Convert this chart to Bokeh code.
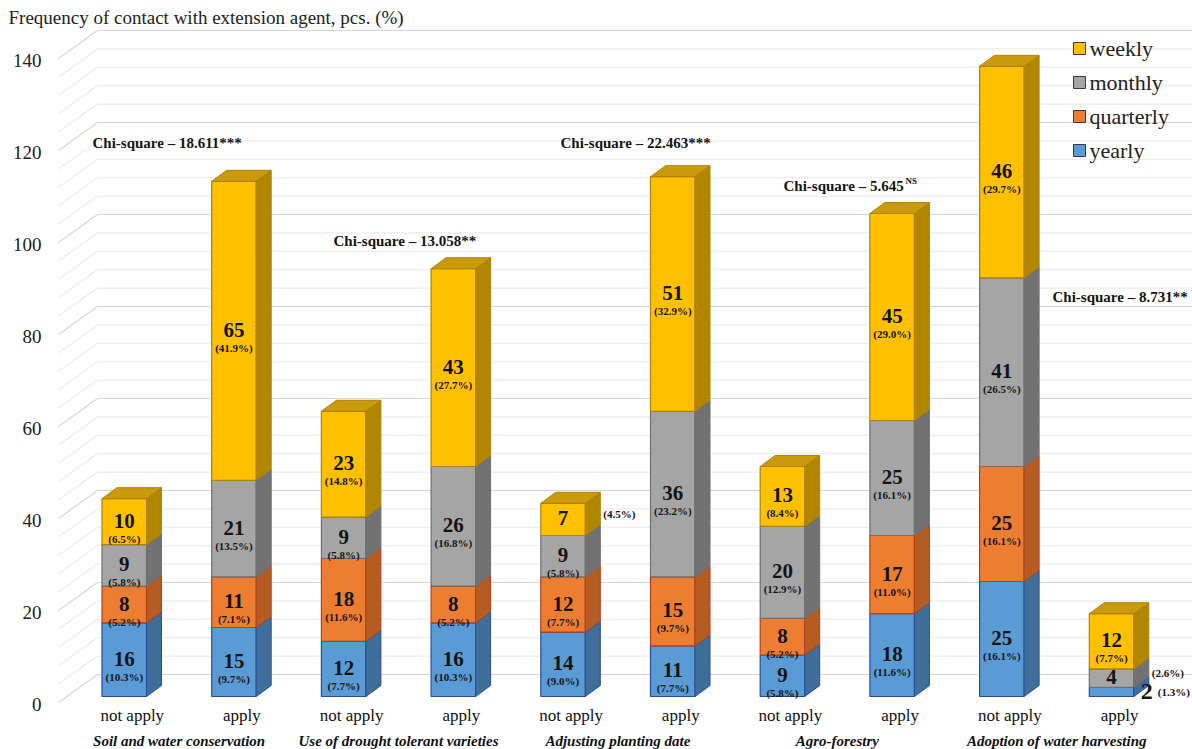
from bokeh.plotting import figure
from bokeh.models import Range1d, ColumnDataSource
from bokeh.core.properties import value
from bokeh.embed import file_html
from bokeh.resources import INLINE

# ---------------- data ----------------
practices = [
    "Soil and water conservation",
    "Use of drought tolerant varieties",
    "Adjusting planting date",
    "Agro-forestry",
    "Adoption of water harvesting",
]
status = ["not apply", "apply"]
series = ["yearly", "quarterly", "monthly", "weekly"]

yearly = [16, 15, 12, 16, 14, 11, 9, 18, 25, 2]
quarterly = [8, 11, 18, 8, 12, 15, 8, 17, 25, 0]
monthly = [9, 21, 9, 26, 9, 36, 20, 25, 41, 4]
weekly = [10, 65, 23, 43, 7, 51, 13, 45, 46, 12]

yearly_pct = ["10.3", "9.7", "7.7", "10.3", "9.0", "7.7", "5.8", "11.6", "16.1", "1.3"]
quarterly_pct = ["5.2", "7.1", "11.6", "5.2", "7.7", "9.7", "5.2", "11.0", "16.1", ""]
monthly_pct = ["5.8", "13.5", "5.8", "16.8", "5.8", "23.2", "12.9", "16.1", "26.5", "2.6"]
weekly_pct = ["6.5", "41.9", "14.8", "27.7", "4.5", "32.9", "8.4", "29.0", "29.7", "7.7"]

chi_values = ["18.611", "13.058", "22.463", "5.645", "8.731"]
chi_marks = ["***", "**", "***", "NS", "**"]

y_ticks = [0, 20, 40, 60, 80, 100, 120, 140]

values = [yearly, quarterly, monthly, weekly]
pcts = [yearly_pct, quarterly_pct, monthly_pct, weekly_pct]

# ---------------- styling ----------------
FRONT = ["#5B9BD5", "#ED7D31", "#A5A5A5", "#FFC000"]
SIDE = ["#3F6E9B", "#B45C22", "#727272", "#B38600"]
TOP = ["#4A83B8", "#C9682A", "#8C8C8C", "#C99A0C"]
EDGE = ["#2A4C9C", "#B0401E", "#6F6F6F", "#B0820A"]
TEXT = "#141414"
SERIF = "Liberation Serif"

W, H = 1192, 749
# pixel geometry of the projection
X0_PX, UX = 123.75, 109.7     # centre of first bar front face, px per bar slot
Y0_PX, UY = 696.0, 4.6        # baseline of bar front plane, px per unit


def xd(px):
    return (px - X0_PX) / UX


def yd(py):
    return (Y0_PX - py) / UY


HW = 22.25 / UX          # half width of a bar front face
DX = 15.0 / UX           # bar depth, horizontal
DY = 11.0 / UY           # bar depth, vertical

p = figure(width=W, height=H, output_backend="svg", toolbar_location=None,
           x_range=Range1d(xd(0), xd(W)), y_range=Range1d(yd(H), yd(0)),
           x_axis_type=None, y_axis_type=None, min_border=0)
p.outline_line_color = None
p.grid.visible = False
p.background_fill_color = "white"
p.border_fill_color = "white"

# ---------------- walls and gridlines ----------------
wall_front_x, wall_back_x = xd(58), xd(97)
front_dy, back_dy = -6.0 / UY, 22.0 / UY
for v in range(0, 141, 4):
    major = v % 20 == 0
    col = "#d6d6d6" if major else "#ededed"
    p.segment(x0=[wall_front_x], y0=[v + front_dy], x1=[wall_back_x], y1=[v + back_dy],
              line_color=col, line_width=1.2)
    p.segment(x0=[wall_back_x], y0=[v + back_dy], x1=[xd(W)], y1=[v + back_dy],
              line_color=col, line_width=1.2)

# y tick labels on the front edge of the side wall
p.text(x=[xd(41)] * len(y_ticks), y=[t + front_dy for t in y_ticks],
       text=[str(t) for t in y_ticks], text_align="right", text_baseline="middle",
       text_font=value(SERIF), text_font_size="19px", text_color="#222222",
       y_offset=2)

p.text(x=[xd(8)], y=[yd(17)], text=["Frequency of contact with extension agent, pcs. (%)"],
       text_align="left", text_baseline="middle", text_font=value(SERIF),
       text_font_size="19px", text_color="#222222")

# ---------------- 3D stacked columns ----------------
n = len(yearly)
fronts = {k: [] for k in ("l", "r", "b", "t", "f", "e")}
sides = {"xs": [], "ys": [], "f": [], "e": []}
tops = {"xs": [], "ys": [], "f": [], "e": []}
num_lab = {"x": [], "y": [], "t": []}
pct_lab = {"x": [], "y": [], "t": []}
out_lab = {"x": [], "y": [], "t": [], "s": []}

for i in range(n):
    base = 0
    top_s = max(s for s in range(4) if values[s][i] > 0)
    for s in range(4):
        h = values[s][i]
        if h <= 0:
            continue
        b, t = base, base + h
        fronts["l"].append(i - HW)
        fronts["r"].append(i + HW)
        fronts["b"].append(b)
        fronts["t"].append(t)
        fronts["f"].append(FRONT[s])
        fronts["e"].append(EDGE[s])
        sides["xs"].append([i + HW, i + HW + DX, i + HW + DX, i + HW])
        sides["ys"].append([b, b + DY, t + DY, t])
        sides["f"].append(SIDE[s])
        sides["e"].append(EDGE[s])
        if s == top_s:
            tops["xs"].append([i - HW, i - HW + DX, i + HW + DX, i + HW])
            tops["ys"].append([t, t + DY, t + DY, t])
            tops["f"].append(TOP[s])
            tops["e"].append(EDGE[s])
        mid = (b + t) / 2
        pct = "(" + pcts[s][i] + "%)"
        if (i, s) == (9, 0):
            # sliver too thin for text: label beside the column
            out_lab["x"] += [i + HW + 13 / UX]
            out_lab["y"] += [mid]
            out_lab["t"] += [str(h)]
            out_lab["s"] += ["big"]
            out_lab["x"] += [i + HW + 24 / UX]
            out_lab["y"] += [mid]
            out_lab["t"] += [pct]
            out_lab["s"] += ["small"]
        elif (i, s) in ((4, 3), (9, 2)):
            num_lab["x"].append(i)
            num_lab["y"].append(mid)
            num_lab["t"].append(str(h))
            out_lab["x"] += [i + HW + DX + 3 / UX]
            out_lab["y"] += [mid + DY / 2]
            out_lab["t"] += [pct]
            out_lab["s"] += ["small"]
        else:
            num_lab["x"].append(i)
            num_lab["y"].append(mid)
            num_lab["t"].append(str(h))
            pct_lab["x"].append(i)
            pct_lab["y"].append(mid)
            pct_lab["t"].append(pct)
        base = t

p.quad(left="l", right="r", bottom="b", top="t", fill_color="f", line_color="e",
       line_width=1.2, source=ColumnDataSource(fronts))
p.patches(xs="xs", ys="ys", fill_color="f", line_color="e", line_width=1.0,
          source=ColumnDataSource(sides))
p.patches(xs="xs", ys="ys", fill_color="f", line_color="e", line_width=1.0,
          source=ColumnDataSource(tops))

p.text(x="x", y="y", text="t", source=ColumnDataSource(num_lab), text_align="center",
       text_baseline="middle", text_font=value(SERIF), text_font_style="bold",
       text_font_size="21px", text_color=TEXT, y_offset=-1)
p.text(x="x", y="y", text="t", source=ColumnDataSource(pct_lab), text_align="center",
       text_baseline="middle", text_font=value(SERIF), text_font_style="bold",
       text_font_size="11px", text_color=TEXT, y_offset=17)

big = [k for k in range(len(out_lab["t"])) if out_lab["s"][k] == "big"]
small = [k for k in range(len(out_lab["t"])) if out_lab["s"][k] == "small"]
p.text(x=[out_lab["x"][k] for k in big], y=[out_lab["y"][k] for k in big],
       text=[out_lab["t"][k] for k in big], text_align="center", text_baseline="middle",
       text_font=value(SERIF), text_font_style="bold", text_font_size="24px",
       text_color=TEXT)
p.text(x=[out_lab["x"][k] for k in small], y=[out_lab["y"][k] for k in small],
       text=[out_lab["t"][k] for k in small], text_align="left", text_baseline="middle",
       text_font=value(SERIF), text_font_style="bold", text_font_size="11px",
       text_color=TEXT)

# ---------------- category labels ----------------
p.text(x=[i + 8 / UX for i in range(n)], y=[yd(715)] * n,
       text=[status[i % 2] for i in range(n)], text_align="center", text_baseline="middle",
       text_font=value(SERIF), text_font_size="17px", text_color="#111111")
p.text(x=[2 * g + 0.5 for g in range(len(practices))], y=[yd(740)] * len(practices),
       text=practices, text_align="center", text_baseline="middle",
       text_font=value(SERIF), text_font_style="bold italic", text_font_size="15px",
       text_color="#111111")

# ---------------- chi-square annotations ----------------
chi_pos_px = [(92, 142), (333, 240), (560, 142), (783, 185), (1052, 296)]
plain = [f"Chi-square \u2013 {v}{m if m != 'NS' else ''}" for v, m in zip(chi_values, chi_marks)]
p.text(x=[xd(px) for px, _ in chi_pos_px], y=[yd(py) for _, py in chi_pos_px], text=plain,
       text_align="left", text_baseline="middle", text_font=value(SERIF),
       text_font_style="bold", text_font_size="15px", text_color=TEXT)
ns_idx = chi_marks.index("NS")
p.text(x=[xd(905)], y=[yd(chi_pos_px[ns_idx][1] - 5)], text=["NS"], text_align="left",
       text_baseline="middle", text_font=value(SERIF), text_font_style="bold",
       text_font_size="9px", text_color=TEXT)

# ---------------- legend ----------------
legend_rows_py = [150, 116, 82, 48]   # yearly, quarterly, monthly, weekly
p.scatter(x=[xd(1079)] * 4, y=[yd(py) for py in legend_rows_py], marker="square",
          size=12, fill_color=FRONT, line_color=["#3a3a3a"] * 4, line_width=1)
p.text(x=[xd(1089)] * 4, y=[yd(py) for py in legend_rows_py], text=series,
       text_align="left", text_baseline="middle", text_font=value(SERIF),
       text_font_size="22px", text_color="#222222")

open("out.html", "w").write(file_html(p, INLINE))
